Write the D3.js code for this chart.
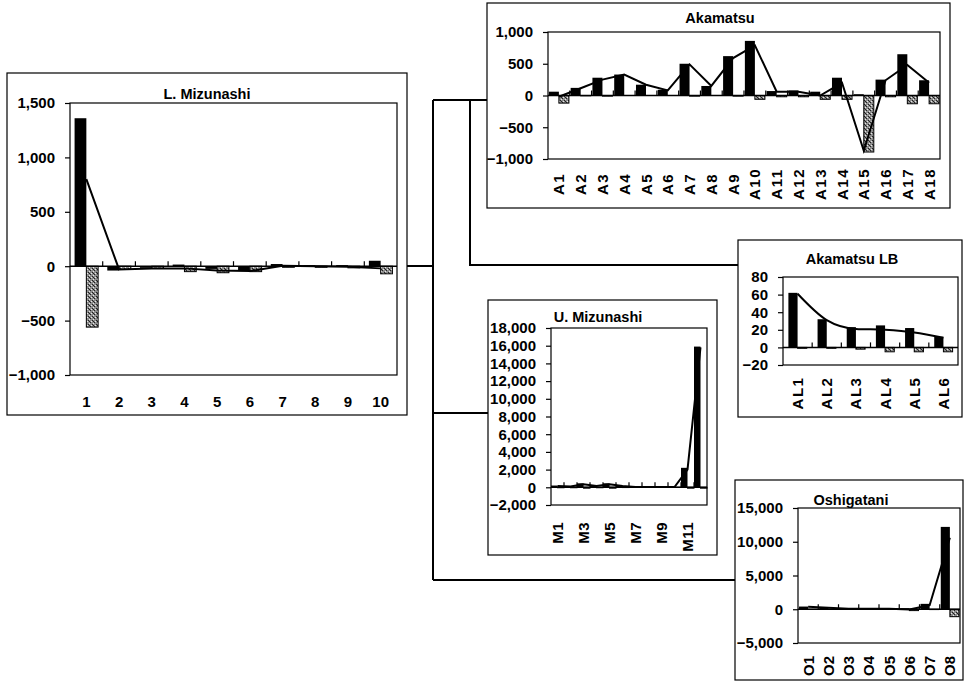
<!DOCTYPE html>
<html><head><meta charset="utf-8">
<script src="https://cdn.jsdelivr.net/npm/d3@7"></script>
<style>
body{margin:0;background:#fff}
svg{display:block}
text{font-family:"Liberation Sans",Arial,sans-serif;font-weight:bold;fill:#000}
</style>
</head><body>
<svg id="c" width="965" height="682"></svg>
<script>
// ---------- DATA ----------
const lmCats = ["1","2","3","4","5","6","7","8","9","10"];
const lmPositive = [1360,-40,-15,15,-25,-35,20,10,10,50];
const lmNegative = [-560,-30,-20,-50,-60,-50,-10,-10,-15,-70];
const lmNet = [800,-30,-20,-20,-40,-45,5,0,-5,-20];
const lmTicks = [-1000,-500,0,500,1000,1500];

const akCats = ["A1","A2","A3","A4","A5","A6","A7","A8","A9","A10","A11","A12","A13","A14","A15","A16","A17","A18"];
const akPositive = [60,120,280,330,170,90,500,150,620,860,70,80,60,280,20,250,650,240];
const akNegative = [-120,-5,-10,0,0,0,-10,0,-10,-60,-20,-20,-60,-60,-890,-20,-130,-130];
const akNet = [-20,115,250,330,170,80,490,150,590,790,60,60,0,200,-870,240,480,200];
const akTicks = [-1000,-500,0,500,1000];

const lbCats = ["AL1","AL2","AL3","AL4","AL5","AL6"];
const lbPositive = [62,32,23,25,22,12];
const lbNegative = [-1,-1,-2,-5,-5,-5];
const lbNet = [61,31,21,20,17,11];
const lbTicks = [-20,0,20,40,60,80];

const umCats = ["M1","M2","M3","M4","M5","M6","M7","M8","M9","M10","M11","M12"];
const umLabels = ["M1","M3","M5","M7","M9","M11"];
const umPositive = [200,150,450,200,450,200,50,30,30,30,2200,15900];
const umNegative = [-50,-50,-100,-50,-100,-30,-20,-10,-10,-10,-100,-100];
const umNet = [150,100,350,150,350,150,30,20,20,20,2000,15800];
const umTicks = [-2000,0,2000,4000,6000,8000,10000,12000,14000,16000,18000];

const osCats = ["O1","O2","O3","O4","O5","O6","O7","O8"];
const osPositive = [400,250,80,80,100,150,800,12200];
const osNegative = [-30,-20,-10,-10,-30,-200,-50,-1100];
const osNet = [380,220,70,70,70,-50,600,10600];
const osTicks = [-5000,0,5000,10000,15000];

// ---------- DRAW ----------
const svg = d3.select("#c");
const defs = svg.append("defs");
const pat = defs.append("pattern").attr("id","hatch").attr("width",4).attr("height",4)
  .attr("patternUnits","userSpaceOnUse");
pat.append("rect").attr("width",4).attr("height",4).attr("fill","#8c8c8c");
[[0,0],[2,2],[1,1]].forEach(([a,b])=>pat.append("rect").attr("x",a).attr("y",b).attr("width",1).attr("height",1).attr("fill","#222"));
[[1,3],[3,1]].forEach(([a,b])=>pat.append("rect").attr("x",a).attr("y",b).attr("width",1).attr("height",1).attr("fill","#e8e8e8"));

// connectors
const conn = svg.append("g").attr("stroke","#000").attr("stroke-width",2).attr("fill","none");
[
  [[407,266],[433,266]],
  [[433,100],[433,580]],
  [[433,100],[487,100]],
  [[470,100],[470,265],[738,265]],
  [[433,413],[488,413]],
  [[433,580],[735,580]]
].forEach(pts=>conn.append("path").attr("d",d3.line()(pts)));

const fmt = d3.format(",");

function drawPanel(p){
  const g = svg.append("g");
  g.append("rect").attr("x",p.box[0]).attr("y",p.box[1])
    .attr("width",p.box[2]-p.box[0]).attr("height",p.box[3]-p.box[1])
    .attr("fill","#fff").attr("stroke","#000").attr("stroke-width",1.2);
  const [pl,pt,pr,pb] = p.plot;
  const x = d3.scaleBand().domain(p.cats).range([pl,pr]).padding(0);
  const y = d3.scaleLinear().domain(p.domain).range([pb,pt]);
  const bw = x.bandwidth();
  const off = bw*(1-p.group)/2;
  const sub = d3.scaleBand().domain(["pos","neg"]).range([off, off+bw*p.group]).padding(0);

  // title
  g.append("text").attr("x",p.titlePos[0]).attr("y",p.titlePos[1])
    .attr("text-anchor","middle").attr("font-size",14.5).text(p.title);

  // y axis
  const ya = d3.axisLeft(y).tickValues(p.ticks).tickSize(5).tickPadding(10).tickFormat(fmt);
  const yg = g.append("g").attr("transform",`translate(${pl},0)`).call(ya);
  yg.attr("font-family",null).attr("font-size",15);
  yg.select(".domain").remove();
  yg.selectAll(".tick line").attr("stroke","#000").attr("stroke-width",1.2);

  // bars
  const rows = p.cats.map((c,i)=>({c, pos:p.pos[i], neg:p.neg[i], net:p.net[i]}));
  g.append("g").selectAll("rect").data(rows).join("rect")
    .attr("x",d=>x(d.c)+sub("pos")).attr("width",sub.bandwidth())
    .attr("y",d=>Math.min(y(d.pos),y(0))).attr("height",d=>Math.abs(y(d.pos)-y(0)))
    .attr("fill","#000");
  g.append("g").selectAll("rect").data(rows).join("rect")
    .attr("x",d=>x(d.c)+sub("neg")).attr("width",sub.bandwidth())
    .attr("y",d=>Math.min(y(d.neg),y(0))).attr("height",d=>Math.abs(y(d.neg)-y(0)))
    .attr("fill","url(#hatch)").attr("stroke","#000").attr("stroke-width",1);

  // zero (category) axis with inner ticks
  g.append("line").attr("x1",pl).attr("x2",pr).attr("y1",y(0)).attr("y2",y(0))
    .attr("stroke","#000").attr("stroke-width",1.5);
  p.cats.slice(1).forEach(c=>{
    g.append("line").attr("x1",x(c)).attr("x2",x(c)).attr("y1",y(0)).attr("y2",y(0)-5)
      .attr("stroke","#000").attr("stroke-width",1.2);
  });

  // net line
  g.append("path").datum(rows)
    .attr("d",d3.line().x(d=>x(d.c)+bw/2).y(d=>y(d.net)).curve(p.curve||d3.curveLinear))
    .attr("fill","none").attr("stroke","#000").attr("stroke-width",2);

  // plot frame
  g.append("rect").attr("x",pl).attr("y",pt).attr("width",pr-pl).attr("height",pb-pt)
    .attr("fill","none").attr("stroke","#000").attr("stroke-width",1.2);

  // category labels
  const labs = p.labels || p.cats;
  labs.forEach(l=>{
    const cx = x(l)+bw/2;
    if(p.rotate){
      g.append("text").attr("transform",`translate(${cx},${p.labelY}) rotate(-90)`)
        .attr("text-anchor",p.anchor).attr("dominant-baseline","central")
        .attr("font-size",15).attr("letter-spacing",p.ls).text(l);
    } else {
      g.append("text").attr("x",cx).attr("y",p.labelY).attr("text-anchor","middle")
        .attr("font-size",15).text(l);
    }
  });
}

drawPanel({title:"L. Mizunashi", titlePos:[207,99], box:[7,73,407,415], plot:[70,103,397,375],
  domain:[-1000,1500], ticks:lmTicks, cats:lmCats, pos:lmPositive, neg:lmNegative, net:lmNet,
  group:0.72, rotate:false, labelY:407});

drawPanel({title:"Akamatsu", titlePos:[720,23], box:[487,3,950,208], plot:[548,32,940,159],
  domain:[-1000,1000], ticks:akTicks, cats:akCats, pos:akPositive, neg:akNegative, net:akNet,
  group:0.92, rotate:true, anchor:"middle", labelY:184, ls:1.5});

drawPanel({title:"Akamatsu LB", titlePos:[852,264], box:[738,240,962,417], plot:[783,277,958,365],
  domain:[-20,80], ticks:lbTicks, cats:lbCats, pos:lbPositive, neg:lbNegative, net:lbNet,
  group:0.63, rotate:true, anchor:"middle", labelY:393, ls:1.5, curve:d3.curveMonotoneX});

drawPanel({title:"U. Mizunashi", titlePos:[598,322], box:[488,300,717,555], plot:[551,328,707,505],
  domain:[-2000,18000], ticks:umTicks, cats:umCats, labels:umLabels, pos:umPositive, neg:umNegative, net:umNet,
  group:1.0, rotate:true, anchor:"end", labelY:522, ls:0.5});

drawPanel({title:"Oshigatani", titlePos:[851,505], box:[735,480,963,680], plot:[798,508,960,643],
  domain:[-5000,15000], ticks:osTicks, cats:osCats, pos:osPositive, neg:osNegative, net:osNet,
  group:0.9, rotate:true, anchor:"end", labelY:656, ls:0});
</script>
</body></html>
